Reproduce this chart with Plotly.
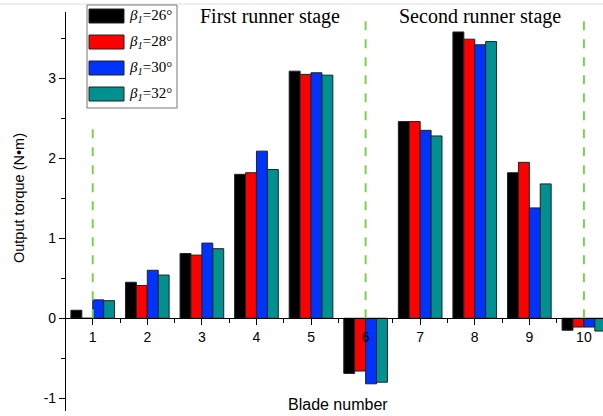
import plotly.graph_objects as go

blades = [1, 2, 3, 4, 5, 6, 7, 8, 9, 10]
tick_labels = ["1", "2", "3", "4", "5", "6", "7", "8", "9", "10"]
y_ticks = [-1, 0, 1, 2, 3]
y_tick_labels = ["-1", "0", "1", "2", "3"]
series_names = ["β1=26°", "β1=28°", "β1=30°", "β1=32°"]
beta26 = [0.10, 0.45, 0.81, 1.80, 3.09, -0.69, 2.46, 3.58, 1.82, -0.15]
beta28 = [0.00, 0.41, 0.79, 1.82, 3.05, -0.66, 2.46, 3.49, 1.95, -0.11]
beta30 = [0.23, 0.60, 0.94, 2.09, 3.07, -0.82, 2.35, 3.42, 1.38, -0.11]
beta32 = [0.22, 0.54, 0.87, 1.86, 3.04, -0.80, 2.28, 3.46, 1.68, -0.16]
stage_labels = ["First runner stage", "Second runner stage"]
divider_x = [1, 6, 10]
divider_top = [2.47, 3.72, 3.72]

colors = ["#000000", "#FF0000", "#0033FF", "#009090"]
all_series = [beta26, beta28, beta30, beta32]

W, H = 603, 416
L, R, T, B = 66, 0, 12, 5
YMIN, YMAX = -1.16, 3.83
XMIN, XMAX = 0.51, 10.35

fig = go.Figure()
for name, vals, c in zip(series_names, all_series, colors):
    fig.add_trace(go.Bar(x=blades, y=vals, name=name,
                         marker=dict(color=c, line=dict(color="#222222", width=1)),
                         showlegend=False))

for xv, top in zip(divider_x, divider_top):
    fig.add_shape(type="line", x0=xv, x1=xv, y0=0, y1=top, xref="x", yref="y",
                  line=dict(color="#80D050", width=2, dash="dash"), layer="above")


def px(xp):
    return (xp - L) / (W - L - R)


def py(yp):
    return (H - B - yp) / (H - T - B)


# faint top border line
fig.add_shape(type="line", xref="paper", yref="paper", x0=px(0), x1=px(603), y0=py(4), y1=py(4),
              line=dict(color="#E0E0E0", width=1))

fig.add_annotation(x=px(270), y=py(16), xref="paper", yref="paper", text=stage_labels[0],
                   showarrow=False, xanchor="center", yanchor="middle",
                   font=dict(family="Liberation Serif", size=20, color="black"))
fig.add_annotation(x=px(480), y=py(16), xref="paper", yref="paper", text=stage_labels[1],
                   showarrow=False, xanchor="center", yanchor="middle",
                   font=dict(family="Liberation Serif", size=20, color="black"))

# custom legend
fig.add_shape(type="rect", xref="paper", yref="paper", x0=px(87), x1=px(177), y0=py(108), y1=py(5),
              line=dict(color="#777777", width=1), fillcolor="white", layer="above")
for i, (name, c) in enumerate(zip(series_names, colors)):
    top = 9 + i * 26
    fig.add_shape(type="rect", xref="paper", yref="paper", x0=px(89), x1=px(124),
                  y0=py(top + 14), y1=py(top),
                  line=dict(color="#222222", width=1), fillcolor=c, layer="above")
    deg = name.split("=")[1]
    fig.add_annotation(x=px(127), y=py(top + 7), xref="paper", yref="paper", xanchor="left",
                       yanchor="middle",
                       text="<i>β</i><sub><i>1</i></sub>=" + deg, showarrow=False,
                       font=dict(family="Liberation Serif", size=15, color="black"))

fig.add_annotation(x=px(338), y=py(404), xref="paper", yref="paper", text="Blade number",
                   showarrow=False, xanchor="center", yanchor="middle",
                   font=dict(family="Liberation Sans", size=16, color="black"))
fig.add_annotation(x=px(19), y=py(198), xref="paper", yref="paper", text="Output torque (N•m)",
                   textangle=-90, showarrow=False, xanchor="center", yanchor="middle",
                   font=dict(family="Liberation Sans", size=14.5, color="black"))

fig.update_layout(
    width=W, height=H, margin=dict(l=L, r=R, t=T, b=B, autoexpand=False),
    paper_bgcolor="white", plot_bgcolor="white",
    barmode="group", bargap=0.2, bargroupgap=0,
    font=dict(family="Liberation Sans", size=14, color="black"),
    xaxis=dict(range=[XMIN, XMAX], tickvals=blades, ticktext=tick_labels, showgrid=False,
               zeroline=False, showline=True, linecolor="black", linewidth=1.2,
               ticks="outside", ticklen=6, tickcolor="black", automargin=False,
               minor=dict(tickvals=[b + 0.5 for b in blades], ticks="outside", ticklen=4,
                          tickcolor="black"),
               anchor="free", position=(0 - YMIN) / (YMAX - YMIN)),
    yaxis=dict(range=[YMIN, YMAX], tickvals=y_ticks, ticktext=y_tick_labels, showgrid=False,
               zeroline=False, showline=True, linecolor="black", linewidth=1.2, ticks="outside",
               ticklen=6, tickcolor="black", automargin=False,
               minor=dict(dtick=0.5, ticks="outside", ticklen=4, tickcolor="black")),
)

fig.write_html("out.html", config={"displayModeBar": False},
               post_script="document.body.style.margin='0';document.body.style.padding='0';")
